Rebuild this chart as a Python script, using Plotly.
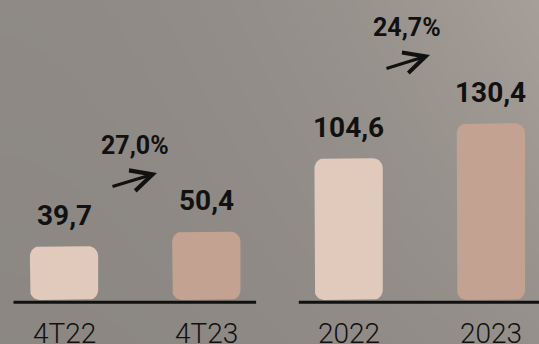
import numpy as np
import plotly.graph_objects as go

# Revenue figures (two comparison pairs)
categories = ["4T22", "4T23", "2022", "2023"]
values = [39.7, 50.4, 104.6, 130.4]
value_labels = ["39,7", "50,4", "104,6", "130,4"]
growth_labels = ["27,0%", "24,7%"]

LIGHT = "#e1cabc"
DARK = "#c4a292"
INK = "#111111"
W, H = 539, 344

X_RANGE = [-0.45, 3.338]
Y_RANGE = [-32.5, 221.4]
BAR_W = 0.48
RADIUS_PX = 10
# data units per pixel on each axis
UX = (X_RANGE[1] - X_RANGE[0]) / W
UY = (Y_RANGE[1] - Y_RANGE[0]) / H


def rounded_bar(xc, top, width=BAR_W, r_px=RADIUS_PX, n=10):
    """Outline of a bar from 0 to `top`, all four corners rounded."""
    rx, ry = r_px * UX, r_px * UY
    x0, x1 = xc - width / 2, xc + width / 2
    corners = [
        (x1 - rx, top - ry, 0.0),          # top-right
        (x0 + rx, top - ry, np.pi / 2),    # top-left
        (x0 + rx, 0 + ry, np.pi),          # bottom-left
        (x1 - rx, 0 + ry, 1.5 * np.pi),    # bottom-right
    ]
    xs, ys = [], []
    for cx, cy, a0 in corners:
        t = np.linspace(a0, a0 + np.pi / 2, n)
        xs += list(cx + rx * np.cos(t))
        ys += list(cy + ry * np.sin(t))
    xs.append(xs[0])
    ys.append(ys[0])
    return xs, ys


fig = go.Figure()

# soft grey backdrop, brighter towards the upper right
gx = np.linspace(X_RANGE[0], X_RANGE[1], 40)
gy = np.linspace(Y_RANGE[0], Y_RANGE[1], 40)
u = (gx - X_RANGE[0]) / (X_RANGE[1] - X_RANGE[0])
v = (gy - Y_RANGE[0]) / (Y_RANGE[1] - Y_RANGE[0])
U, V = np.meshgrid(u, v)
Z = 0.1 + 0.1 * V + 0.3 * U**2 + 0.4 * U**2 * V
fig.add_trace(go.Heatmap(
    x=gx, y=gy, z=Z, zmin=0, zmax=1, zsmooth="best",
    colorscale=[[0, "#88847f"], [1, "#a9a19c"]],
    showscale=False, hoverinfo="skip",
))

# bars: light for the earlier period, dark for the later one
for idx_set, color in (((0, 2), LIGHT), ((1, 3), DARK)):
    xs, ys = [], []
    for i in idx_set:
        bx, by = rounded_bar(i, values[i])
        xs += bx + [None]
        ys += by + [None]
    fig.add_trace(go.Scatter(
        x=xs, y=ys, mode="lines", fill="toself", fillcolor=color,
        line=dict(width=0, color=color), hoverinfo="skip",
    ))

# baselines under each pair
for x0, x1 in ((-0.355, 1.35), (1.65, 3.4)):
    fig.add_shape(type="line", xref="x", yref="y",
                  x0=x0, x1=x1, y0=-1.6, y1=-1.6,
                  line=dict(color=INK, width=3))

annotations = []
for i, (cat, lab, val) in enumerate(zip(categories, value_labels, values)):
    annotations.append(dict(
        x=i, y=val, xref="x", yref="y", text=lab, showarrow=False,
        yanchor="middle", yshift=31,
        font=dict(family="Roboto", size=28, color=INK, weight="bold"),
    ))
    annotations.append(dict(
        x=i, y=0, xref="x", yref="y", text=cat, showarrow=False,
        yanchor="middle", yshift=-34,
        font=dict(family="Roboto", size=28, color=INK, weight=300),
    ))

# growth arrows and percentages (pixel positions)
growth_geo = [
    dict(label=(135, 145), tail=(111, 187), tip=(157, 173)),
    dict(label=(407, 27), tail=(385, 69), tip=(430, 55)),
]
for text, g in zip(growth_labels, growth_geo):
    lx, ly = g["label"]
    annotations.append(dict(
        x=lx / W, y=1 - ly / H, xref="paper", yref="paper", text=text,
        showarrow=False, xanchor="center", yanchor="middle",
        font=dict(family="Roboto", size=25, color=INK, weight="bold"),
    ))
    tx, ty = g["tip"]
    sx, sy = g["tail"]
    annotations.append(dict(
        x=tx / W, y=1 - ty / H, xref="paper", yref="paper", text="",
        showarrow=True, arrowhead=5, arrowsize=1.4, arrowwidth=3,
        arrowcolor=INK, ax=sx - tx, ay=sy - ty, standoff=0,
    ))

fig.update_layout(
    width=W, height=H,
    margin=dict(l=0, r=0, t=0, b=0),
    paper_bgcolor="#8f8b86", plot_bgcolor="#8f8b86",
    showlegend=False,
    xaxis=dict(range=X_RANGE, visible=False, fixedrange=True),
    yaxis=dict(range=Y_RANGE, visible=False, fixedrange=True),
    annotations=annotations,
)

fig.write_html("out.html", config={"displayModeBar": False})
